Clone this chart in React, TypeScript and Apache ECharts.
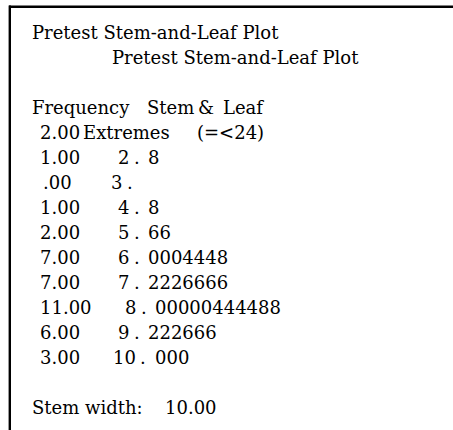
import React, { useEffect, useRef } from "react";
import * as echarts from "echarts";

// ---- Data ----
const titleText = "Pretest Stem-and-Leaf Plot";
const headerFrequency = "Frequency";
const headerStem = "Stem";
const headerAmp = "&";
const headerLeaf = "Leaf";
const extremesFrequency = "2.00";
const extremesLabel = "Extremes";
const extremesRange = "(=<24)";
const frequencies = ["1.00", ".00", "1.00", "2.00", "7.00", "7.00", "11.00", "6.00", "3.00"];
const stems = ["2", "3", "4", "5", "6", "7", "8", "9", "10"];
const leaves = ["8", "", "8", "66", "0004448", "2226666", "00000444488", "222666", "000"];
const stemWidthLabel = "Stem width:";
const stemWidthValue = "10.00";

// ---- Layout (positions only) ----
const FONT = "'DejaVu Serif', serif";
const FONT_SIZE = 18;
const ROW0_Y = 32;
const ROW_H = 25;
const stemX = [118, 111, 118, 118, 118, 118, 125, 118, 113];
const dotX = [134, 127, 134, 134, 134, 134, 141, 134, 140];
const leafX = [148, 148, 148, 148, 148, 148, 155, 148, 155];

export default function App() {
  const ref = useRef<HTMLDivElement>(null);
  useEffect(() => {
    if (!ref.current) return;
    const chart = echarts.init(ref.current, null, { renderer: "svg" });
    const rowY = (i: number) => ROW0_Y + ROW_H * i;
    const txt = (text: string, x: number, row: number) => ({
      type: "text",
      x,
      y: rowY(row),
      style: {
        text,
        fill: "#000",
        font: `${FONT_SIZE}px ${FONT}`,
        textVerticalAlign: "middle",
        textAlign: "left",
      },
    });
    const elements: any[] = [
      { type: "line", shape: { x1: 9, y1: 6.8, x2: 453, y2: 6.8 }, style: { stroke: "#000", lineWidth: 2.4 } },
      { type: "line", shape: { x1: 9.8, y1: 5.6, x2: 9.8, y2: 430 }, style: { stroke: "#000", lineWidth: 2.4 } },
      txt(titleText, 32, 0),
      txt(titleText, 112, 1),
      txt(headerFrequency, 32, 3),
      txt(headerStem, 147, 3),
      txt(headerAmp, 198, 3),
      txt(headerLeaf, 223, 3),
      txt(extremesFrequency, 40, 4),
      txt(extremesLabel, 83, 4),
      txt(extremesRange, 197, 4),
    ];
    stems.forEach((s, i) => {
      const row = 5 + i;
      elements.push(txt(frequencies[i], frequencies[i].startsWith(".") ? 43 : 40, row));
      elements.push(txt(s, stemX[i], row));
      elements.push(txt(".", dotX[i], row));
      if (leaves[i]) elements.push(txt(leaves[i], leafX[i], row));
    });
    elements.push(txt(stemWidthLabel, 32, 15));
    elements.push(txt(stemWidthValue, 165, 15));

    chart.setOption({
      animation: false,
      backgroundColor: "#fff",
      graphic: { elements },
    });
    return () => chart.dispose();
  }, []);
  return (
    <div
      ref={ref}
      style={{ position: "fixed", left: 0, top: 0, width: 453, height: 430, background: "#fff" }}
    />
  );
}
